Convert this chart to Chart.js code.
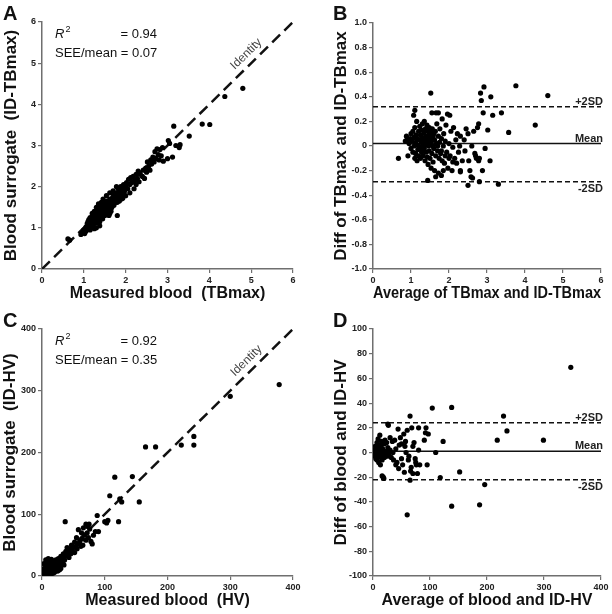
<!DOCTYPE html>
<html>
<head>
<meta charset="utf-8">
<script src="https://cdn.jsdelivr.net/npm/chart.js@4.4.1/dist/chart.umd.min.js"></script>
<style>
    body { margin: 0; background: #fff; }
    #grid { position: relative; width: 612px; height: 614px; }
    #grid canvas { position: absolute; }
</style>
</head>
<body>
<div id="grid">
    <canvas id="panelA" width="306" height="307" style="left:0;top:0"></canvas>
    <canvas id="panelB" width="306" height="307" style="left:306px;top:0"></canvas>
    <canvas id="panelC" width="306" height="307" style="left:0;top:307px"></canvas>
    <canvas id="panelD" width="306" height="307" style="left:306px;top:307px"></canvas>
</div>
<script>
const FONT = '"Liberation Sans", Arial, sans-serif';

// A: measured blood TBmax vs ID-TBmax surrogate
const tbmaxPoints = [
    [0.62,0.73],[0.66,0.70],[0.93,0.84],[0.95,0.88],[0.98,0.90],[1.00,0.95],[1.02,0.86],
    [1.05,1.02],[1.05,0.92],[1.08,1.10],[1.08,0.98],[1.10,1.15],[1.10,1.05],[1.12,1.20],
    [1.12,1.08],[1.13,1.00],[1.14,1.12],[1.15,1.08],[1.15,1.25],[1.15,0.95],[1.17,1.18],
    [1.18,1.10],[1.18,1.22],[1.20,1.22],[1.20,1.05],[1.20,1.35],[1.21,1.30],[1.22,1.15],
    [1.22,1.28],[1.23,1.20],[1.24,1.10],[1.25,1.28],[1.25,0.98],[1.25,1.40],[1.26,1.18],
    [1.27,1.35],[1.28,1.22],[1.28,1.12],[1.30,1.30],[1.30,1.12],[1.30,1.50],[1.30,1.00],
    [1.31,1.40],[1.32,1.25],[1.32,1.38],[1.33,1.18],[1.34,1.32],[1.35,1.45],[1.35,1.20],
    [1.35,1.58],[1.36,1.28],[1.36,1.15],[1.37,1.38],[1.38,1.50],[1.38,1.15],[1.38,1.05],
    [1.40,1.35],[1.40,1.25],[1.40,1.48],[1.41,1.42],[1.42,1.55],[1.42,1.62],[1.43,1.30],
    [1.44,1.40],[1.44,1.28],[1.45,1.60],[1.45,1.22],[1.46,1.48],[1.46,1.70],[1.47,1.35],
    [1.48,1.52],[1.48,1.45],[1.50,1.42],[1.50,1.62],[1.50,1.30],[1.52,1.50],[1.52,1.32],
    [1.53,1.38],[1.54,1.58],[1.54,1.78],[1.55,1.45],[1.55,1.65],[1.56,1.55],[1.57,1.52],
    [1.58,1.42],[1.60,1.60],[1.60,1.50],[1.60,1.40],[1.60,1.30],[1.62,1.70],[1.62,1.35],
    [1.62,1.85],[1.63,1.55],[1.64,1.58],[1.65,1.62],[1.65,1.40],[1.66,1.48],[1.68,1.72],
    [1.68,1.52],[1.70,1.60],[1.70,1.82],[1.70,1.90],[1.72,1.55],[1.72,1.65],[1.73,1.68],
    [1.75,1.78],[1.76,1.62],[1.76,1.70],[1.78,1.85],[1.78,2.00],[1.80,1.72],[1.80,1.30],
    [1.80,1.62],[1.82,1.95],[1.83,1.78],[1.84,1.82],[1.85,1.65],[1.86,1.88],[1.88,2.00],
    [1.90,1.80],[1.90,1.70],[1.92,1.92],[1.93,1.72],[1.95,2.05],[1.96,1.95],[1.97,1.88],
    [2.00,2.00],[2.00,1.78],[2.02,2.10],[2.05,1.95],[2.07,2.18],[2.10,2.05],[2.10,1.85],
    [2.12,2.22],[2.15,2.10],[2.18,2.25],[2.20,1.95],[2.22,2.15],[2.25,2.30],[2.25,2.05],
    [2.28,2.20],[2.30,2.38],[2.32,2.12],[2.35,2.30],[2.40,2.25],[2.42,2.40],[2.45,2.20],
    [2.48,2.45],[2.50,2.35],[2.52,2.60],[2.55,2.50],[2.58,2.40],[2.60,2.65],[2.62,2.55],
    [2.65,2.72],[2.68,2.60],[2.70,2.85],[2.72,2.68],[2.75,2.92],[2.78,2.78],[2.80,2.65],
    [2.82,2.90],[2.85,2.75],[2.88,2.95],[2.90,2.62],[3.00,2.68],[3.02,3.12],[3.05,3.05],
    [3.12,2.72],[3.15,3.47],[3.20,3.00],[3.28,2.95],[3.30,3.02],[3.52,3.23],[3.83,3.52],
    [4.01,3.51],[4.37,4.19],[4.80,4.39]
];

// B: Bland-Altman of TBmax
const tbmaxDiffPoints = [
    [0.67,-0.10],[0.85,0.04],[0.88,0.08],[0.90,0.05],[0.92,-0.08],[0.95,0.02],[0.98,0.06],
    [1.00,-0.02],[1.00,0.10],[1.02,0.04],[1.05,-0.05],[1.05,0.12],[1.07,0.25],[1.08,0.00],
    [1.08,0.07],[1.10,0.29],[1.10,-0.10],[1.10,0.15],[1.12,0.03],[1.12,-0.06],[1.13,0.09],
    [1.15,0.01],[1.15,0.20],[1.16,-0.12],[1.17,0.06],[1.18,-0.03],[1.20,0.12],[1.20,0.00],
    [1.20,-0.08],[1.22,0.05],[1.23,0.16],[1.24,-0.02],[1.25,0.09],[1.25,-0.10],[1.27,0.03],
    [1.28,0.13],[1.28,-0.05],[1.30,0.00],[1.30,0.07],[1.30,0.18],[1.32,-0.08],[1.33,0.04],
    [1.34,0.11],[1.35,-0.02],[1.35,0.20],[1.36,0.06],[1.37,-0.12],[1.38,0.01],[1.38,0.14],
    [1.40,0.08],[1.40,-0.05],[1.41,0.03],[1.42,0.17],[1.43,-0.09],[1.44,0.05],[1.44,-0.28],
    [1.45,0.12],[1.45,-0.15],[1.46,0.00],[1.47,0.09],[1.48,-0.04],[1.48,0.15],[1.50,0.06],
    [1.50,-0.10],[1.50,0.02],[1.52,0.43],[1.52,0.11],[1.53,-0.18],[1.54,0.04],[1.55,0.27],
    [1.55,-0.06],[1.56,0.14],[1.57,0.00],[1.58,0.08],[1.58,-0.13],[1.60,0.10],[1.60,-0.02],
    [1.60,0.05],[1.62,0.05],[1.62,-0.20],[1.64,0.12],[1.65,-0.08],[1.65,-0.25],[1.66,0.27],
    [1.67,0.02],[1.68,0.18],[1.70,-0.04],[1.70,0.00],[1.72,0.27],[1.72,0.08],[1.72,-0.22],
    [1.74,-0.10],[1.75,0.03],[1.76,0.14],[1.78,-0.06],[1.80,0.06],[1.80,-0.04],[1.80,-0.24],
    [1.82,-0.12],[1.82,0.22],[1.85,0.00],[1.85,-0.20],[1.86,0.10],[1.88,-0.14],[1.90,0.04],
    [1.90,-0.08],[1.92,0.17],[1.94,-0.05],[1.96,0.26],[1.97,-0.18],[2.00,0.02],[2.00,-0.10],
    [2.02,0.25],[2.03,-0.08],[2.05,0.12],[2.08,-0.20],[2.10,-0.01],[2.10,-0.13],[2.12,0.15],
    [2.15,-0.10],[2.18,0.05],[2.20,-0.14],[2.22,0.10],[2.25,-0.05],[2.28,0.00],[2.30,0.08],
    [2.30,-0.20],[2.30,-0.21],[2.35,-0.12],[2.40,0.05],[2.42,-0.04],[2.45,0.14],[2.50,0.10],
    [2.50,-0.32],[2.52,-0.12],[2.55,-0.20],[2.58,-0.25],[2.60,0.00],[2.62,-0.26],[2.65,0.12],
    [2.68,-0.06],[2.70,-0.08],[2.72,-0.10],[2.75,0.15],[2.78,0.18],[2.78,-0.12],[2.80,-0.10],
    [2.80,-0.29],[2.83,0.43],[2.85,0.37],[2.88,-0.20],[2.90,0.27],[2.92,0.48],[2.95,-0.02],
    [3.02,0.13],[3.08,-0.12],[3.10,0.40],[3.15,0.25],[3.30,-0.31],[3.38,0.27],[3.57,0.11],
    [3.76,0.49],[4.27,0.17],[4.60,0.41]
];
const tbmaxMean = 0.02;
const tbmaxUpper = 0.32;
const tbmaxLower = -0.29;

// C: measured blood HV vs ID-HV surrogate
const hvPoints = [
    [1,0],[2,3],[2,8],[3,1],[3,12],[3,20],[4,6],[4,2],[5,2],[5,10],[6,4],[6,15],[6,26],
    [7,8],[7,20],[8,3],[8,22],[9,12],[9,5],[10,6],[10,18],[10,28],[11,25],[11,2],[12,10],
    [12,3],[13,15],[14,20],[14,9],[15,8],[15,27],[16,13],[16,4],[17,18],[18,5],[18,24],
    [19,14],[20,20],[20,6],[21,10],[22,26],[23,17],[24,22],[25,13],[25,8],[26,28],[27,20],
    [28,16],[28,10],[30,25],[30,32],[30,12],[31,18],[32,28],[33,22],[34,36],[35,30],[35,18],
    [36,26],[37,88],[38,40],[38,33],[40,35],[40,46],[42,38],[43,30],[45,44],[46,36],[47,50],
    [48,42],[50,46],[52,38],[52,55],[54,48],[55,62],[56,44],[58,52],[58,75],[60,56],[62,48],
    [63,70],[64,60],[65,50],[66,78],[68,66],[70,58],[70,84],[72,70],[73,80],[74,62],[75,84],
    [76,76],[78,56],[80,52],[82,66],[85,72],[88,98],[90,72],[100,88],[103,86],[105,90],
    [108,130],[116,160],[122,88],[124,125],[127,120],[144,161],[155,120],[165,209],[181,209],
    [222,212],[242,226],[242,212],[300,291],[378,310]
];

// D: Bland-Altman of HV
const hvDiffPoints = [
    [2,0],[3,2],[3,-3],[4,5],[4,-1],[5,-5],[5,1],[6,3],[6,-2],[7,8],[7,-6],[8,0],[8,4],
    [9,-4],[9,11],[10,2],[10,-8],[11,6],[11,-1],[12,14],[12,-3],[13,1],[13,-10],[14,5],
    [15,-2],[15,9],[16,-6],[16,-19],[17,3],[18,-20],[18,0],[19,-21],[20,7],[20,-4],[21,10],
    [22,-2],[23,1],[24,8],[25,-3],[26,4],[26,23],[27,22],[28,-1],[30,2],[30,12],[32,-4],
    [34,9],[35,0],[36,-6],[38,10],[40,-10],[40,3],[42,-8],[44,19],[45,-13],[46,6],[48,12],
    [50,-5],[50,7],[52,-10],[54,15],[55,-16],[56,5],[57,9],[58,0],[60,-50.5],[60,18],
    [62,-6],[63,-3],[65,-22.4],[65,29.5],[66,-15],[67,-12],[68,20],[70,-17],[70,5],[72,8],
    [74,-5],[75,-8],[76,-10],[78,-17],[80,20],[80,2],[82,-10],[90,10],[92,16],[93,20],
    [95,-10],[97,15],[104,36],[110,0],[118,-20.3],[123,9],[138,-43.5],[138,36.5],[152,-15.7],
    [187,-42.4],[196,-26],[218,10],[229,29.5],[235,17.5],[299,10],[347,69]
];
const hvMean = 1.1;
const hvUpper = 24;
const hvLower = -22;

const annotationPlugin = {
    id: 'annotations',
    afterDatasetsDraw(chart, args, opts) {
        const ctx = chart.ctx;
        const area = chart.chartArea;
        const xs = chart.scales.x;
        const ys = chart.scales.y;
        ctx.save();
        ctx.fillStyle = '#111';

        // panel letter
        ctx.font = `bold 20px ${FONT}`;
        ctx.textAlign = 'left';
        ctx.textBaseline = 'alphabetic';
        ctx.fillText(opts.letter, opts.letterX, 20);

        if (opts.stats) {
            const x0 = area.left + 13;
            ctx.font = `italic 13px ${FONT}`;
            ctx.fillText('R', x0, area.top + 16);
            const rw = ctx.measureText('R').width;
            ctx.font = `9px ${FONT}`;
            ctx.fillText('2', x0 + rw + 1, area.top + 10);
            ctx.font = `13px ${FONT}`;
            ctx.textAlign = 'right';
            ctx.fillText(opts.stats[0], area.left + 115, area.top + 16);
            ctx.textAlign = 'left';
            ctx.fillText('SEE/mean = ' + opts.stats[1], x0, area.top + 35);
        }

        if (opts.identityAt != null) {
            const px = xs.getPixelForValue(opts.identityAt);
            const py = ys.getPixelForValue(opts.identityAt);
            const angle = Math.atan2(ys.getPixelForValue(ys.max) - ys.getPixelForValue(0),
                xs.getPixelForValue(xs.max) - xs.getPixelForValue(0));
            ctx.translate(px, py);
            ctx.rotate(angle);
            ctx.font = `12px ${FONT}`;
            ctx.fillStyle = '#444';
            ctx.textAlign = 'center';
            ctx.textBaseline = 'middle';
            ctx.fillText('Identity', 0, -10);
            ctx.setTransform(1, 0, 0, 1, 0, 0);
        }

        if (opts.limits) {
            ctx.font = `bold 11px ${FONT}`;
            ctx.fillStyle = '#222';
            ctx.textAlign = 'right';
            opts.limits.forEach(([value, label, below]) => {
                const y = ys.getPixelForValue(value);
                if (below) {
                    ctx.textBaseline = 'top';
                    ctx.fillText(label, area.right + 2, y + 2);
                } else {
                    ctx.textBaseline = 'alphabetic';
                    ctx.fillText(label, area.right + 2, y - 2);
                }
            });
        }
        ctx.restore();
    }
};

function toXY(points) {
    return points.map(([x, y]) => ({ x, y }));
}

function axis(min, max, step, title, titlePad, fixSize, fmt) {
    return {
        type: 'linear',
        min, max,
        border: { display: true, color: '#6f6f6f', width: 1.5 },
        grid: { drawOnChartArea: false, drawTicks: true, tickLength: 4, color: '#6f6f6f', lineWidth: 1.2 },
        ticks: {
            stepSize: step,
            autoSkip: false,
            maxRotation: 0,
            padding: 2,
            color: '#222',
            font: { family: FONT, size: 9, weight: 'bold' },
            callback: fmt || (v => v)
        },
        title: {
            display: true,
            text: title,
            color: '#111',
            font: { family: FONT, size: fixSize.titleSize, weight: 'bold' },
            padding: titlePad
        },
        afterFit: fixSize.fit
    };
}

function makePanel(id, cfg) {
    const datasets = [{
        data: toXY(cfg.points),
        pointRadius: 2.6,
        pointBackgroundColor: '#000',
        pointBorderWidth: 0,
        showLine: false
    }];
    cfg.lines.forEach(l => {
        datasets.push({
            data: toXY(l.data),
            showLine: true,
            pointRadius: 0,
            borderColor: '#111',
            borderWidth: l.width,
            borderDash: l.dash || []
        });
    });

    return new Chart(document.getElementById(id), {
        type: 'scatter',
        data: { datasets },
        options: {
            responsive: false,
            animation: false,
            layout: { padding: { left: 0, top: cfg.top, right: cfg.right, bottom: 0 } },
            scales: {
                x: axis(cfg.xMin, cfg.xMax, cfg.xStep, cfg.xTitle, { top: 0, bottom: 4 },
                    { titleSize: 16, fit: s => { s.height = 38; } }),
                y: axis(cfg.yMin, cfg.yMax, cfg.yStep, cfg.yTitle, { top: cfg.yTitlePad, bottom: 0 },
                    { titleSize: 17, fit: s => { s.width = cfg.left; } }, cfg.yFmt)
            },
            plugins: {
                legend: { display: false },
                tooltip: { enabled: false },
                annotations: cfg.notes
            }
        },
        plugins: [annotationPlugin]
    });
}

const fmtOneDecimal = v => Math.abs(v) < 1e-9 ? '0' : v.toFixed(1);

makePanel('panelA', {
    points: tbmaxPoints,
    lines: [{ data: [[0, 0], [6, 6]], width: 2.5, dash: [11, 6] }],
    xMin: 0, xMax: 6, xStep: 1, yMin: 0, yMax: 6, yStep: 1,
    xTitle: 'Measured blood  (TBmax)', yTitle: 'Blood surrogate  (ID-TBmax)',
    left: 42, top: 22, right: 13, yTitlePad: 1,
    notes: { letter: 'A', letterX: 3, stats: ['= 0.94', '0.07'], identityAt: 5.05 }
});

makePanel('panelB', {
    points: tbmaxDiffPoints,
    lines: [
        { data: [[0, tbmaxUpper], [6, tbmaxUpper]], width: 1.5, dash: [5, 3] },
        { data: [[0, tbmaxMean], [6, tbmaxMean]], width: 1.5 },
        { data: [[0, tbmaxLower], [6, tbmaxLower]], width: 1.5, dash: [5, 3] }
    ],
    xMin: 0, xMax: 6, xStep: 1, yMin: -1, yMax: 1, yStep: 0.2, yFmt: fmtOneDecimal,
    xTitle: 'Average of TBmax and ID-TBmax', yTitle: 'Diff of TBmax and ID-TBmax',
    left: 67, top: 23, right: 11, yTitlePad: 25,
    notes: { letter: 'B', letterX: 27,
        limits: [[tbmaxUpper, '+2SD', false], [tbmaxMean, 'Mean', false], [tbmaxLower, '-2SD', true]] }
});

makePanel('panelC', {
    points: hvPoints,
    lines: [{ data: [[0, 0], [400, 400]], width: 2.5, dash: [11, 6] }],
    xMin: 0, xMax: 400, xStep: 100, yMin: 0, yMax: 400, yStep: 100,
    xTitle: 'Measured blood  (HV)', yTitle: 'Blood surrogate  (ID-HV)',
    left: 42, top: 22, right: 13, yTitlePad: 0,
    notes: { letter: 'C', letterX: 3, stats: ['= 0.92', '0.35'], identityAt: 337 }
});

makePanel('panelD', {
    points: hvDiffPoints,
    lines: [
        { data: [[0, hvUpper], [400, hvUpper]], width: 1.5, dash: [5, 3] },
        { data: [[0, hvMean], [400, hvMean]], width: 1.5 },
        { data: [[0, hvLower], [400, hvLower]], width: 1.5, dash: [5, 3] }
    ],
    xMin: 0, xMax: 400, xStep: 100, yMin: -100, yMax: 100, yStep: 20,
    xTitle: 'Average of blood and ID-HV', yTitle: 'Diff of blood and ID-HV',
    left: 67, top: 22, right: 11, yTitlePad: 25,
    notes: { letter: 'D', letterX: 27,
        limits: [[hvUpper, '+2SD', false], [hvMean, 'Mean', false], [hvLower, '-2SD', true]] }
});
</script>
</body>
</html>
